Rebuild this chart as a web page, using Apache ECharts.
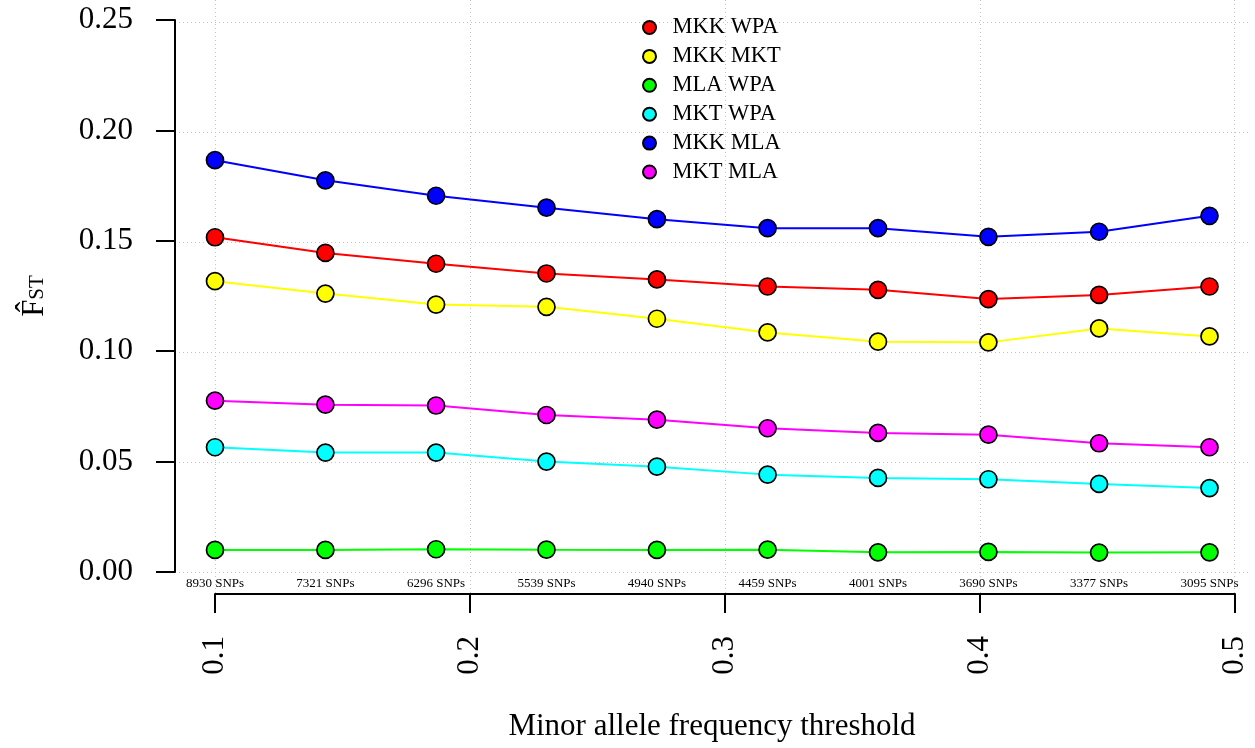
<!DOCTYPE html>
<html>
<head>
<meta charset="utf-8">
<script src="https://cdn.jsdelivr.net/npm/echarts@6/dist/echarts.min.js"></script>
<style>
  html, body { margin: 0; background: #fff; }
  #chart { width: 1255px; height: 748px; }
</style>
</head>
<body>
<div id="chart"></div>
<script>
// minor allele frequency thresholds and SNP counts left at each one
const mafThresholds = [0.1, 0.1433, 0.1867, 0.23, 0.2733, 0.3167, 0.36, 0.4033, 0.4467, 0.49];
const snpCounts = ['8930 SNPs', '7321 SNPs', '6296 SNPs', '5539 SNPs', '4940 SNPs',
  '4459 SNPs', '4001 SNPs', '3690 SNPs', '3377 SNPs', '3095 SNPs'];

// pairwise Fst per threshold
const mkkWpa = [0.1516, 0.1445, 0.1396, 0.1352, 0.1325, 0.1293, 0.1278, 0.1236, 0.1255, 0.1293];
const mkkMkt = [0.1317, 0.1261, 0.1211, 0.1201, 0.1147, 0.1085, 0.1043, 0.1040, 0.1103, 0.1067];
const mlaWpa = [0.0100, 0.0100, 0.0103, 0.0101, 0.0100, 0.0101, 0.0089, 0.0091, 0.0088, 0.0089];
const mktWpa = [0.0565, 0.0541, 0.0541, 0.0500, 0.0477, 0.0441, 0.0426, 0.0420, 0.0399, 0.0380];
const mkkMla = [0.1865, 0.1774, 0.1704, 0.1650, 0.1598, 0.1557, 0.1557, 0.1518, 0.1541, 0.1613];
const mktMla = [0.0776, 0.0758, 0.0754, 0.0711, 0.0690, 0.0651, 0.0630, 0.0622, 0.0583, 0.0565];

const xTicks = [0.1, 0.2, 0.3, 0.4, 0.5];
const yTicks = [0, 0.05, 0.1, 0.15, 0.2, 0.25];

const serif = '"Liberation Serif", "DejaVu Serif", serif';

const pairs = [
  { name: 'MKK WPA', color: '#ff0000', values: mkkWpa },
  { name: 'MKK MKT', color: '#ffff00', values: mkkMkt },
  { name: 'MLA WPA', color: '#00ff00', values: mlaWpa },
  { name: 'MKT WPA', color: '#00ffff', values: mktWpa },
  { name: 'MKK MLA', color: '#0000ff', values: mkkMla },
  { name: 'MKT MLA', color: '#ff00ff', values: mktMla },
];

const dotted = { show: true, lineStyle: { color: '#c4c4c4', width: 1, type: [1, 3] } };

let chart = echarts.init(document.getElementById('chart'));

let option = {
  animation: false,
  backgroundColor: '#fff',
  grid: [
    // full plot region, only carries the dotted grid
    { left: 175, right: 6, top: 0, bottom: 154 },
    // tick span, carries the data and the drawn axes
    { left: 215, right: 20, top: 20, bottom: 176 },
  ],
  legend: {
    orient: 'vertical',
    left: 637,
    top: 11,
    icon: 'circle',
    itemWidth: 36,
    itemHeight: 13,
    itemGap: 5.9,
    data: pairs.map(p => p.name),
    textStyle: { fontFamily: serif, fontSize: 22.5, color: '#000' },
  },
  xAxis: [
    {
      gridIndex: 0,
      type: 'value',
      min: 0.0843,
      max: 0.5056,
      axisLine: { show: false, onZero: false },
      axisTick: { show: false, customValues: xTicks },
      axisLabel: { show: false },
      splitLine: dotted,
      name: 'Minor allele frequency threshold',
      nameLocation: 'middle',
      nameGap: 117,
      nameTextStyle: { fontFamily: serif, fontSize: 31, color: '#000' },
    },
    {
      gridIndex: 1,
      type: 'value',
      position: 'bottom',
      min: 0.1,
      max: 0.5,
      interval: 0.1,
      offset: 22,
      axisLine: { show: true, onZero: false, lineStyle: { color: '#000', width: 2 } },
      axisTick: { show: true, length: 19, lineStyle: { color: '#000', width: 2 } },
      axisLabel: {
        rotate: 90,
        margin: 42,
        fontFamily: serif,
        fontSize: 31,
        color: '#000',
        formatter: v => String(Math.round(v * 10) / 10),
      },
      splitLine: { show: false },
    },
    {
      gridIndex: 1,
      type: 'value',
      position: 'bottom',
      min: 0.1,
      max: 0.5,
      axisLine: { show: false, onZero: false },
      axisTick: { show: false },
      axisLabel: {
        customValues: mafThresholds,
        margin: 5,
        fontFamily: serif,
        fontSize: 13,
        color: '#000',
        showMinLabel: true,
        showMaxLabel: true,
        hideOverlap: false,
        formatter: v => {
          let i = mafThresholds.findIndex(t => Math.abs(t - v) < 1e-6);
          return i >= 0 ? snpCounts[i] : '';
        },
      },
      splitLine: { show: false },
    },
  ],
  yAxis: [
    {
      gridIndex: 0,
      type: 'value',
      min: -0.01,
      max: 0.26,
      axisLine: { show: false, onZero: false },
      axisTick: { show: false, customValues: yTicks },
      axisLabel: { show: false },
      splitLine: dotted,
    },
    {
      gridIndex: 1,
      type: 'value',
      min: 0,
      max: 0.25,
      interval: 0.05,
      offset: 40,
      axisLine: { show: true, onZero: false, lineStyle: { color: '#000', width: 2 } },
      axisTick: { show: true, length: 19, lineStyle: { color: '#000', width: 2 } },
      axisLabel: {
        margin: 42,
        fontFamily: serif,
        fontSize: 31,
        color: '#000',
        formatter: v => v.toFixed(2),
      },
      splitLine: { show: false },
      name: '{f|F\u0302}{s|ST}',
      nameLocation: 'middle',
      nameRotate: 90,
      nameGap: 125,
      nameTextStyle: {
        fontFamily: serif,
        color: '#000',
        rich: {
          f: { fontFamily: serif, fontSize: 31, color: '#000' },
          s: { fontFamily: serif, fontSize: 21, color: '#000', padding: [6, 0, 0, 0] },
        },
      },
    },
  ],
  series: pairs.map(p => ({
    name: p.name,
    type: 'line',
    xAxisIndex: 1,
    yAxisIndex: 1,
    data: mafThresholds.map((x, i) => [x, p.values[i]]),
    symbol: 'circle',
    symbolSize: 17,
    lineStyle: { color: p.color, width: 2 },
    itemStyle: { color: p.color, borderColor: '#000', borderWidth: 1.7 },
  })),
};

chart.setOption(option);
</script>
</body>
</html>
